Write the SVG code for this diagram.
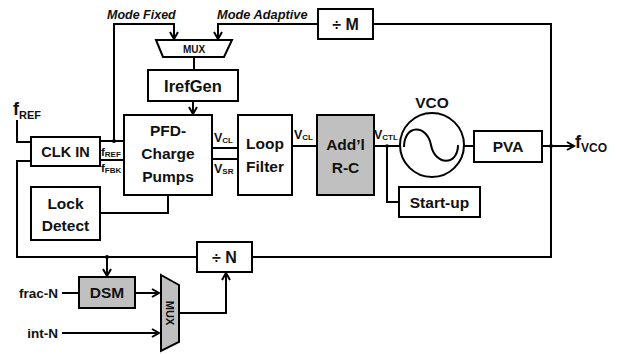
<svg xmlns="http://www.w3.org/2000/svg" width="618" height="354" viewBox="0 0 618 354">
<style>
.box{fill:#fff;stroke:#000;stroke-width:2}
.gray{fill:#c0c0c0;stroke:#000;stroke-width:2}
.t{font-family:"Liberation Sans",Arial,sans-serif;font-weight:bold;fill:#111;text-anchor:middle;font-size:15.5px}
.s{font-family:"Liberation Sans",Arial,sans-serif;font-weight:bold;fill:#111}
.w{fill:none;stroke:#000;stroke-width:2}
.a{fill:none;stroke:#000;stroke-width:2;marker-end:url(#arr)}
</style>
<defs>
<marker id="arr" viewBox="0 0 10 10" refX="8.5" refY="5" markerWidth="10" markerHeight="10" markerUnits="userSpaceOnUse" orient="auto">
<path d="M1.5,1 L8.5,5 L1.5,9" fill="none" stroke="#000" stroke-width="2"/>
</marker>
</defs>
<rect width="618" height="354" fill="#fff"/>
<g id="connectors">
<path class="a" d="M114,141 V24 H174 V39"/>
<path class="a" d="M318,24 H218 V39"/>
<path class="w" d="M194,57 V70"/>
<path class="a" d="M193,101 V114"/>
<path class="w" d="M100,141 H124 M100,160 H124"/>
<path class="w" d="M17,120 V142 H31"/>
<path class="w" d="M31,161 H17 V257 H197"/>
<path class="w" d="M252,257 H551 V24 H373"/>
<path class="a" d="M542,146 H574"/>
<path class="w" d="M212,148 H238 M212,159 H238"/>
<path class="w" d="M292,146 H317"/>
<path class="w" d="M374,146 H400"/>
<path class="w" d="M387,146 V202 H399"/>
<path class="w" d="M464,146 H474"/>
<path class="w" d="M100,213 H168 V195"/>
<path class="a" d="M107,257 V276"/>
<path class="w" d="M62,293 H79"/>
<path class="a" d="M135,293 H159"/>
<path class="a" d="M62,333 H159"/>
<path class="a" d="M179,313 H226 V273"/>
<circle cx="114" cy="141" r="2" fill="#000"/>
<circle cx="107" cy="257" r="2" fill="#000"/>
<circle cx="551" cy="146" r="2" fill="#000"/>
<circle cx="387" cy="146" r="1.8" fill="#000"/>
</g>
<g id="labels">
<text class="s" x="107" y="19" style="font-size:12.5px;font-style:italic">Mode Fixed</text>
<text class="s" x="217" y="19" style="font-size:12.8px;font-style:italic">Mode Adaptive</text>
<text class="s" x="13" y="115" style="font-size:18px">f<tspan style="font-size:11px" dy="4">REF</tspan></text>
<text class="s" x="575" y="148" style="font-size:18px">f<tspan style="font-size:12px" dy="4">VCO</tspan></text>
<text class="s" x="101" y="156" style="font-size:11.5px">f<tspan style="font-size:8px" dy="1">REF</tspan></text>
<text class="s" x="101" y="172" style="font-size:11.5px">f<tspan style="font-size:8px" dy="1">FBK</tspan></text>
<text class="s" x="214" y="142" style="font-size:12.5px">V<tspan style="font-size:8px" dy="1">CL</tspan></text>
<text class="s" x="214" y="173" style="font-size:12.5px">V<tspan style="font-size:8px" dy="1">SR</tspan></text>
<text class="s" x="294" y="139" style="font-size:12.5px">V<tspan style="font-size:8px" dy="1">CL</tspan></text>
<text class="s" x="374" y="139" style="font-size:12.5px">V<tspan style="font-size:8px" dy="1">CTL</tspan></text>
<text class="s" x="58" y="298" style="font-size:13.5px;text-anchor:end">frac-N</text>
<text class="s" x="58" y="338" style="font-size:13.5px;text-anchor:end">int-N</text>
</g>
<g id="divM"><rect class="box" x="318" y="9" width="55" height="30"/><text class="t" x="345.5" y="30" style="font-size:16px">÷ M</text></g>
<g id="muxTop"><polygon class="box" points="156,40 232,40 224,57 163,57"/><text class="t" x="194" y="52.5" style="font-size:10px">MUX</text></g>
<g id="irefgen"><rect class="box" x="148" y="70" width="90" height="31"/><text class="t" x="193" y="92" style="font-size:16.5px">IrefGen</text></g>
<g id="pfd"><rect class="box" x="124" y="115" width="88" height="80"/><text class="t" x="168" y="136">PFD-</text><text class="t" x="168" y="159">Charge</text><text class="t" x="168" y="182">Pumps</text></g>
<g id="loopfilter"><rect class="box" x="238" y="115" width="54" height="80"/><text class="t" x="265" y="149">Loop</text><text class="t" x="265" y="172">Filter</text></g>
<g id="addl"><rect class="gray" x="317" y="115" width="57" height="80"/><text class="t" x="345.5" y="150">Add’l</text><text class="t" x="345.5" y="173">R-C</text></g>
<g id="vco"><text class="t" x="432" y="108">VCO</text><circle class="box" cx="432" cy="145" r="32"/><path class="w" d="M404,147 C404,124 427,124 431,145 C435,166 458,166 458,145"/></g>
<g id="startup"><rect class="box" x="399" y="187" width="81" height="30"/><text class="t" x="439.5" y="208">Start-up</text></g>
<g id="pva"><rect class="box" x="474" y="131" width="68" height="31"/><text class="t" x="508" y="152">PVA</text></g>
<g id="clkin"><rect class="box" x="31" y="137" width="69" height="29"/><text class="t" x="65.5" y="157" style="font-size:14.5px">CLK IN</text></g>
<g id="lockdetect"><rect class="box" x="31" y="187" width="69" height="53"/><text class="t" x="65.5" y="209">Lock</text><text class="t" x="65.5" y="231">Detect</text></g>
<g id="divN"><rect class="box" x="197" y="242" width="55" height="30"/><text class="t" x="224.5" y="263" style="font-size:16px">÷ N</text></g>
<g id="dsm"><rect class="gray" x="79" y="277" width="56" height="31"/><text class="t" x="107" y="298">DSM</text></g>
<g id="muxBottom"><polygon class="gray" points="161,275 179,285 179,342 161,351"/><text class="t" x="0" y="0" style="font-size:11px" transform="translate(166,313) rotate(90)">MUX</text></g>
</svg>
